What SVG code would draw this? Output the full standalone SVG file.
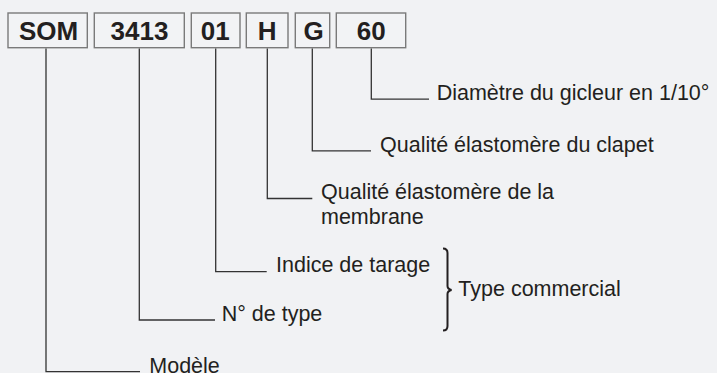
<svg xmlns="http://www.w3.org/2000/svg" width="717" height="373" viewBox="0 0 717 373">
<style>
.box{fill:#f2f3f5;stroke:#7a7a7a;stroke-width:1.4}
.code{font-family:"Liberation Sans",Arial,sans-serif;font-weight:bold;font-size:26px;fill:#231f20;text-anchor:middle}
.lbl{font-family:"Liberation Sans",Arial,sans-serif;font-size:21.5px;fill:#231f20}
.conn{fill:none;stroke:#333;stroke-width:1.3}
</style>
<rect width="717" height="373" fill="#f1f2f4"/>
<g id="node-som"><rect class="box" x="8" y="13" width="79.3" height="34.7"/><text class="code" x="48.5" y="39.5">SOM</text></g>
<g id="node-3413"><rect class="box" x="94.3" y="13" width="90" height="34.7"/><text class="code" x="139.5" y="39.5">3413</text></g>
<g id="node-01"><rect class="box" x="191.3" y="13" width="48.7" height="34.7"/><text class="code" x="215.3" y="39.5">01</text></g>
<g id="node-h"><rect class="box" x="246.3" y="13" width="41.7" height="34.7"/><text class="code" x="267.2" y="39.5">H</text></g>
<g id="node-g"><rect class="box" x="295.3" y="13" width="34.4" height="34.7"/><text class="code" x="313.5" y="39.5">G</text></g>
<g id="node-60"><rect class="box" x="336.3" y="13" width="69.4" height="34.7"/><text class="code" x="371.2" y="39.5">60</text></g>
<g id="connectors">
<path class="conn" d="M46 48.4V371.6H140"/>
<path class="conn" d="M139.3 48.4V320H215"/>
<path class="conn" d="M215.7 48.4V271.6H266.7"/>
<path class="conn" d="M267.3 48.4V198.5H312.3"/>
<path class="conn" d="M312.3 48.4V150.8H371"/>
<path class="conn" d="M371.3 48.4V99.2H429"/>
<path d="M443 248.5Q447.5 248.5 447.5 253V286Q447.5 289 451.5 290Q447.5 291 447.5 294V326Q447.5 330.5 443 330.5" fill="none" stroke="#231f20" stroke-width="2"/>
</g>
<g id="label-diametre"><text class="lbl" x="436.7" y="100">Diamètre du gicleur en 1/10°</text></g>
<g id="label-clapet"><text class="lbl" x="380" y="151.5">Qualité élastomère du clapet</text></g>
<g id="label-membrane"><text class="lbl" x="321"><tspan x="321" y="198.5">Qualité élastomère de la</tspan><tspan x="321" y="224">membrane</tspan></text></g>
<g id="label-indice"><text class="lbl" x="276" y="272">Indice de tarage</text></g>
<g id="label-type"><text class="lbl" x="221.7" y="321">N° de type</text></g>
<g id="label-modele"><text class="lbl" x="149.3" y="372.5">Modèle</text></g>
<g id="label-commercial"><text class="lbl" x="458.3" y="296">Type commercial</text></g>
</svg>
